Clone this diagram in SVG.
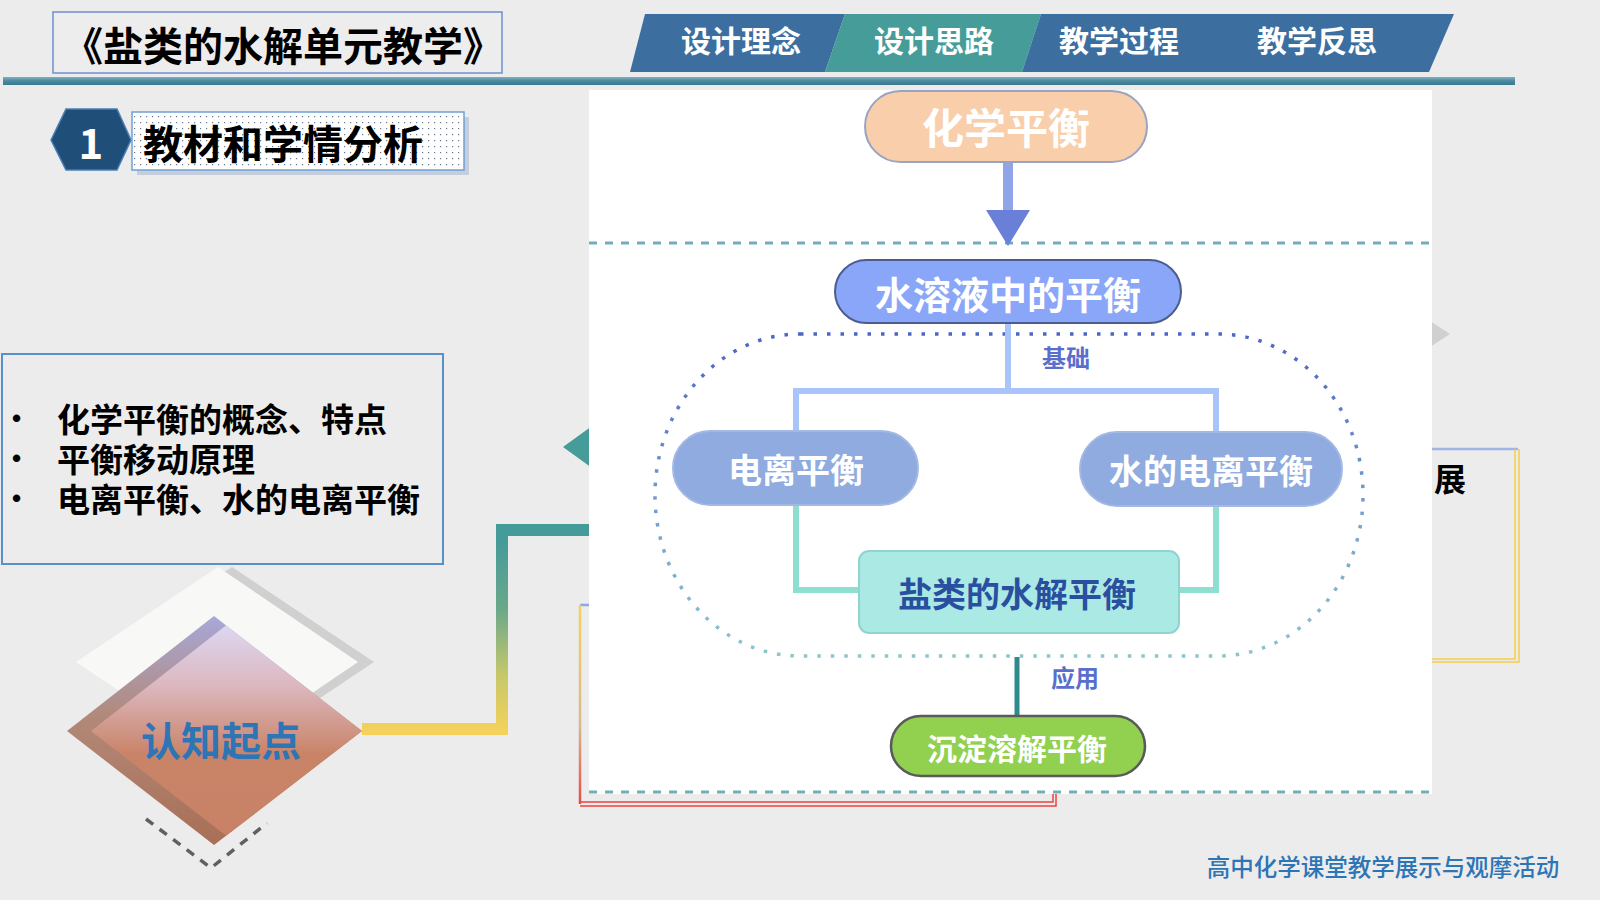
<svg xmlns="http://www.w3.org/2000/svg" width="1600" height="900" viewBox="0 0 1600 900">
<defs>
<style>
.cjk{font-family:"Noto Sans CJK SC","Noto Sans",sans-serif;}
.b{font-weight:700;}
.wt{fill:#ffffff;}
.tab{font-size:30px;fill:#ffffff;font-weight:700;}
.bul{font-size:33px;fill:#000000;font-weight:700;}
.dot{font-family:"Liberation Sans",Arial,sans-serif;font-size:26px;fill:#000000;font-weight:700;}
.pill{stroke-width:2;}
.lbl{font-size:24px;fill:#5a6fcc;font-weight:700;}
</style>
<linearGradient id="barG" x1="0" y1="0" x2="0" y2="1">
<stop offset="0" stop-color="#7fb0c2"/><stop offset="0.5" stop-color="#4a8aa0"/><stop offset="1" stop-color="#3a7890"/>
</linearGradient>
<pattern id="dots" width="6" height="6" patternUnits="userSpaceOnUse">
<rect width="6" height="6" fill="#ffffff"/><rect x="2" y="2" width="1.2" height="1.2" fill="#6a7a8a"/>
</pattern>
<linearGradient id="dmDark" x1="0" y1="0" x2="0" y2="1">
<stop offset="0" stop-color="#a8a8d8"/><stop offset="0.45" stop-color="#b28878"/><stop offset="1" stop-color="#a86f55"/>
</linearGradient>
<linearGradient id="dmLight" x1="0" y1="0" x2="0" y2="1">
<stop offset="0" stop-color="#dcdcfa"/><stop offset="0.3" stop-color="#dcb8c0"/><stop offset="0.6" stop-color="#c98468"/><stop offset="1" stop-color="#c88166"/>
</linearGradient>
<linearGradient id="linkG" gradientUnits="userSpaceOnUse" x1="0" y1="540" x2="0" y2="735">
<stop offset="0" stop-color="#459b99"/><stop offset="0.35" stop-color="#6aa88a"/><stop offset="0.7" stop-color="#c8c86a"/><stop offset="1" stop-color="#f7d25a"/>
</linearGradient>
<linearGradient id="ellG" gradientUnits="userSpaceOnUse" x1="0" y1="334" x2="0" y2="656">
<stop offset="0" stop-color="#4a66c8"/><stop offset="0.5" stop-color="#6f9ad0"/><stop offset="1" stop-color="#8cc6cc"/>
</linearGradient>
<linearGradient id="sideG" gradientUnits="userSpaceOnUse" x1="0" y1="605" x2="0" y2="804">
<stop offset="0" stop-color="#f7d25a"/><stop offset="0.6" stop-color="#d8b890"/><stop offset="1" stop-color="#e84a4a"/>
</linearGradient>
<clipPath id="dmClip"><polygon points="214,616 362,731 214,845 67,731"/></clipPath>
<marker id="arrowHead" viewBox="0 0 36 44" refX="0" refY="22" markerWidth="36" markerHeight="44" markerUnits="userSpaceOnUse" orient="auto">
<path d="M0,0 L36,22 L0,44 z" fill="#6a80d8"/>
</marker>
</defs>

<rect width="1600" height="900" fill="#ececec"/>

<!-- header -->
<g id="title">
<rect x="53" y="12" width="449" height="61" fill="#ededed" stroke="#6f8fd0" stroke-width="1.5"/>
<text x="283" y="44" class="cjk b" font-size="40" text-anchor="middle" dominant-baseline="central" fill="#000">《盐类的水解单元教学》</text>
</g>
<g id="tabs">
<polygon points="645,14 845,14 825,72 630,72" fill="#3c6f9f"/>
<polygon points="845,14 1041,14 1022,72 825,72" fill="#469c99"/>
<polygon points="1041,14 1454,14 1429,72 1022,72" fill="#3c6f9f"/>
<text x="741" y="39" class="cjk tab" text-anchor="middle" dominant-baseline="central">设计理念</text>
<text x="934" y="39" class="cjk tab" text-anchor="middle" dominant-baseline="central">设计思路</text>
<text x="1119" y="39" class="cjk tab" text-anchor="middle" dominant-baseline="central">教学过程</text>
<text x="1317" y="39" class="cjk tab" text-anchor="middle" dominant-baseline="central">教学反思</text>
</g>
<rect id="headerBar" x="3" y="77" width="1512" height="8" fill="url(#barG)"/>

<!-- section heading -->
<g id="section1">
<polygon points="51,140 66,109 117,109 131,140 117,170 66,170" fill="#1f4e79" stroke="#4a7fb5" stroke-width="1.5"/>
<text x="91" y="140" class="cjk b" font-size="42" fill="#fff" text-anchor="middle" dominant-baseline="central">1</text>
<rect x="137" y="117" width="332" height="58" fill="#b8c2d4" opacity="0.7"/>
<rect x="132" y="112" width="332" height="58" fill="url(#dots)" stroke="#6fa0d8" stroke-width="1.5"/>
<text x="143" y="142" class="cjk b" font-size="40" fill="#000" dominant-baseline="central">教材和学情分析</text>
</g>

<!-- left content box -->
<g id="contentBox">
<rect x="2" y="354" width="441" height="210" fill="#ececec" stroke="#5b8fc9" stroke-width="2"/>
<text class="dot" dominant-baseline="central"><tspan x="12" y="418">•</tspan><tspan x="12" y="458">•</tspan><tspan x="12" y="498">•</tspan></text>
<text class="cjk bul" dominant-baseline="central"><tspan x="57" y="418">化学平衡的概念、特点</tspan><tspan x="57" y="458">平衡移动原理</tspan><tspan x="57" y="498">电离平衡、水的电离平衡</tspan></text>
</g>

<!-- diamond -->
<g id="startPoint">
<polygon points="232,567 374,662 232,757 90,662" fill="#d0d0d0"/>
<polygon points="218,567 358,662 218,757 76,662" fill="#f8f8f6"/>
<polygon points="214,616 362,731 214,845 67,731" fill="url(#dmDark)"/>
<polygon points="238,616 386,731 238,845 91,731" fill="url(#dmLight)" clip-path="url(#dmClip)"/>
<text x="221" y="739" class="cjk b" font-size="40" fill="#2e75b6" text-anchor="middle" dominant-baseline="central">认知起点</text>
<polyline points="146,819 211,868 267,823" fill="none" stroke="#606060" stroke-width="3.5" stroke-dasharray="9 8"/>
</g>

<!-- background connector -->
<g id="bgConnectors">
<polyline points="362,729 502,729 502,530 595,530" fill="none" stroke="url(#linkG)" stroke-width="12"/>
<polygon points="563,447 592,426 592,468" fill="#469c99"/>
<polygon points="1430,321 1450,334 1430,347" fill="#d0d0d0"/>
<path d="M1428,449 H1518" stroke="#a3b3e3" stroke-width="2.5" fill="none"/>
<path d="M1515,449 V659 H1428 M1519,449 V662 H1428" stroke="#f5cd48" stroke-width="1.5" fill="none"/>
<text x="1450" y="477" class="cjk b" font-size="32" fill="#000" text-anchor="middle" dominant-baseline="central">展</text>
<path d="M580,605 H595" stroke="#8fa6e0" stroke-width="2.5" fill="none"/>
<path d="M580,605 V804" stroke="url(#sideG)" stroke-width="2.5" fill="none"/>
<path d="M580,802 H1053 V790 M580,806 H1056 V790" stroke="#ee4040" stroke-width="1.5" fill="none"/>
</g>

<!-- panel -->
<rect id="panel" x="589" y="90" width="843" height="704" fill="#ffffff"/>
<g id="panelLines">
<path d="M589,243 H1432 M589,792 H1432" stroke="#6fb0b8" stroke-width="3" stroke-dasharray="8 8" fill="none"/>
<rect x="655" y="334" width="708" height="322" rx="145" ry="161" fill="none" stroke="url(#ellG)" stroke-width="3.5" stroke-dasharray="3.5 10"/>
</g>

<g id="connectors">
<line x1="1008" y1="163" x2="1008" y2="210" stroke="#8fa5e8" stroke-width="10" marker-end="url(#arrowHead)"/>
<path d="M1008,323 V391 M796,431 V391 H1216 V432" stroke="#a8c4f8" stroke-width="6" fill="none"/>
<path d="M796,505 V590 H859 M1216,506 V590 H1179" stroke="#8fdfd0" stroke-width="6" fill="none"/>
<path d="M1017,657 V717" stroke="#2e8b8b" stroke-width="5" fill="none"/>
<text x="1066" y="356" class="cjk lbl" text-anchor="middle" dominant-baseline="central">基础</text>
<text x="1075" y="676" class="cjk lbl" text-anchor="middle" dominant-baseline="central">应用</text>
</g>

<g id="node-huaxuepingheng">
<rect x="865" y="91" width="282" height="71" rx="35.5" fill="#f8ceab" stroke="#9aa3c2" class="pill"/>
<text x="1006" y="125" class="cjk b wt" font-size="42" text-anchor="middle" dominant-baseline="central">化学平衡</text>
</g>
<g id="node-shuirongye">
<rect x="835" y="260" width="346" height="63" rx="31.5" fill="#8aa6f8" stroke="#4c5c8c" class="pill"/>
<text x="1008" y="292" class="cjk b wt" font-size="38" text-anchor="middle" dominant-baseline="central">水溶液中的平衡</text>
</g>
<g id="node-dianli">
<rect x="673" y="431" width="245" height="74" rx="37" fill="#8fabe0" stroke="#a4b8e4" class="pill"/>
<text x="796" y="468" class="cjk b wt" font-size="34" text-anchor="middle" dominant-baseline="central">电离平衡</text>
</g>
<g id="node-shuidedianli">
<rect x="1080" y="432" width="262" height="74" rx="37" fill="#8fabe0" stroke="#a4b8e4" class="pill"/>
<text x="1211" y="469" class="cjk b wt" font-size="34" text-anchor="middle" dominant-baseline="central">水的电离平衡</text>
</g>
<g id="node-yanlei">
<rect x="859" y="551" width="320" height="82" rx="10" fill="#aae9e4" stroke="#90d4d0" class="pill"/>
<text x="1017" y="592" class="cjk b" font-size="34" fill="#2a4fa0" text-anchor="middle" dominant-baseline="central">盐类的水解平衡</text>
</g>
<g id="node-chendian">
<rect x="891" y="716" width="254" height="60" rx="30" fill="#92d050" stroke="#5a5a5a" stroke-width="2.5"/>
<text x="1017" y="747" class="cjk b wt" font-size="30" text-anchor="middle" dominant-baseline="central">沉淀溶解平衡</text>
</g>

<text id="footer" x="1383" y="866" class="cjk" font-size="23.5" font-weight="500" fill="#2e75b6" text-anchor="middle" dominant-baseline="central">高中化学课堂教学展示与观摩活动</text>
</svg>
